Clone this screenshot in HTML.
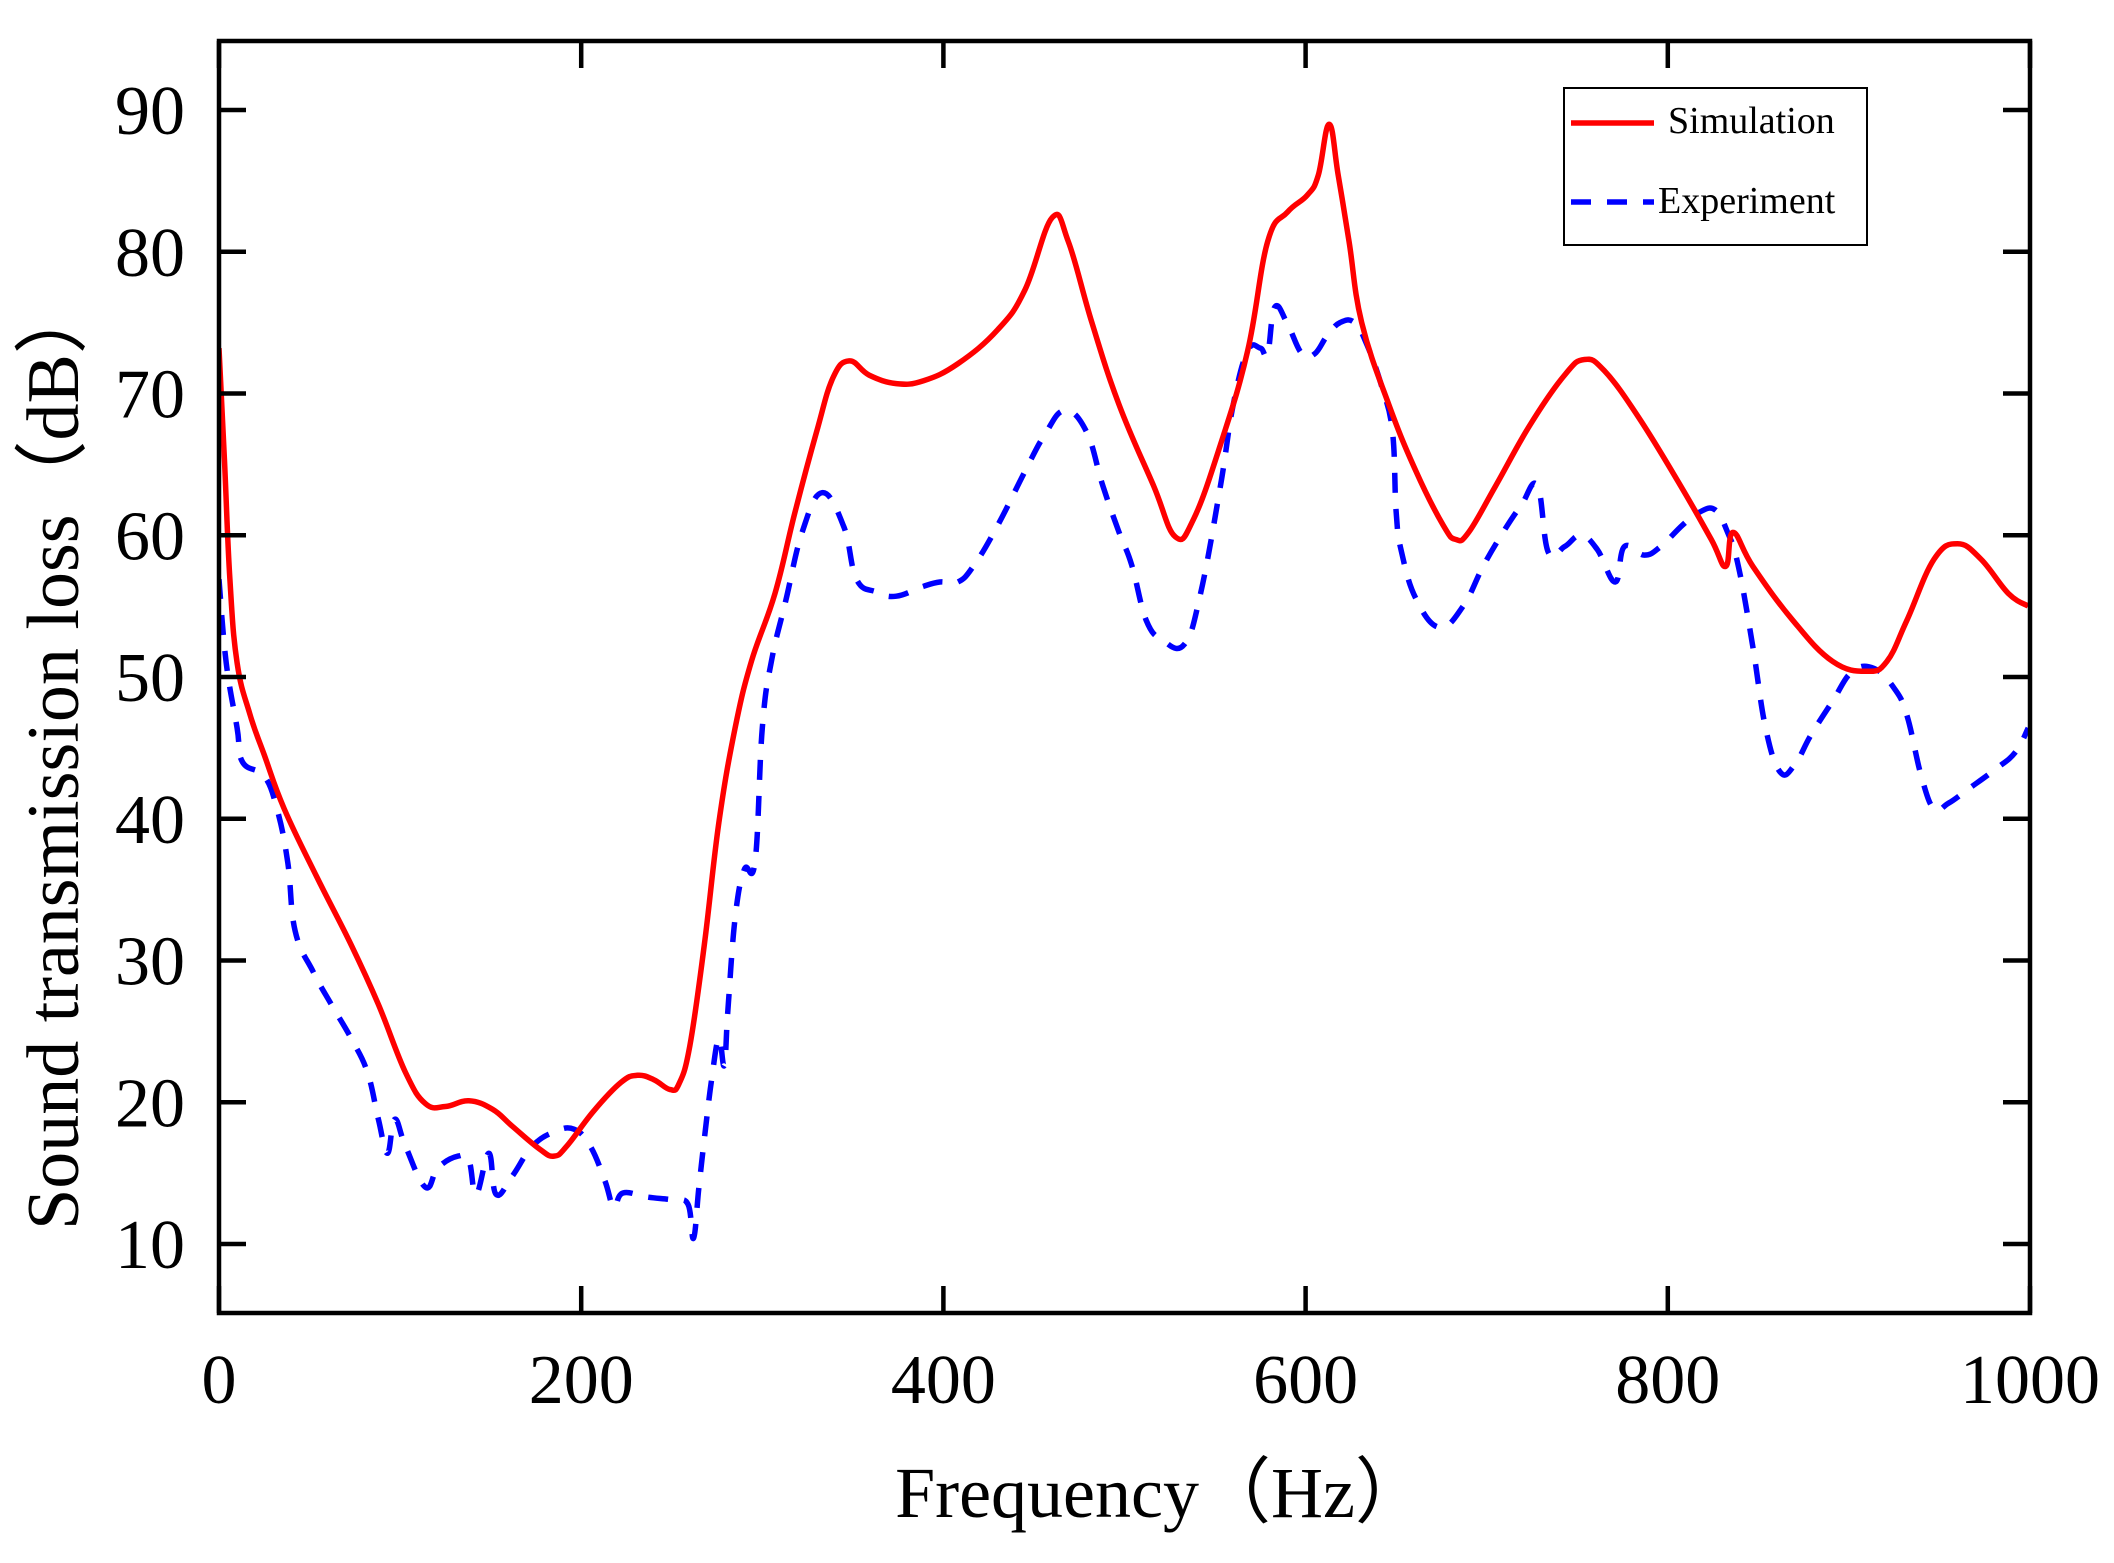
<!DOCTYPE html>
<html><head><meta charset="utf-8"><style>
html,body{margin:0;padding:0;background:#fff;}
svg{display:block;font-family:"Liberation Serif",serif;}
</style></head><body>
<svg id="chart" width="2114" height="1563" viewBox="0 0 2114 1563">
<defs><clipPath id="clip"><rect x="219" y="41" width="1811" height="1272"/></clipPath></defs>
<g id="series" clip-path="url(#clip)"></g>
<rect x="219" y="41" width="1811" height="1272" fill="none" stroke="#000" stroke-width="4.5"/>
<g id="ticks"></g>
<text x="1161" y="1517" font-size="72" text-anchor="middle">Frequency（Hz）</text>
<text transform="translate(78,755) rotate(-90)" font-size="74" text-anchor="middle">Sound transmission loss（dB）</text>
<g>
<rect x="1564" y="88" width="303" height="157" fill="#fff" stroke="#000" stroke-width="2"/>
<line x1="1571" y1="123" x2="1654" y2="123" stroke="#ff0000" stroke-width="5.5"/>
<text x="1668" y="133" font-size="38">Simulation</text>
<line x1="1571" y1="202" x2="1654" y2="202" stroke="#0000ff" stroke-width="5.5" stroke-dasharray="20,16"/>
<text x="1658" y="213" font-size="38">Experiment</text>
</g>
</svg>
<script>
const xTicks=[0,200,400,600,800,1000];
const yTicks=[10,20,30,40,50,60,70,80,90];
const simFreq=[0,3,6,10,17,25,36,54,73,88,103,114,125,138,151,162,177,185,192,207,222,231,240,249,254,260,268,276,285,294,307,318,330,339,348,359,374,389,408,430,445,460,469,482,497,516,528,538,553,568,579,590,601,607,613,618,624,631,646,661,676,683,690,705,724,743,754,765,784,807,824,832,836,847,869,891,910,921,932,947,960,973,988,999];
const simLoss=[73.2,65.4,56.9,51,47.4,44.5,40.7,35.9,31.1,26.9,22.1,19.9,19.7,20.1,19.5,18.3,16.7,16.2,16.9,19.4,21.4,21.9,21.6,20.9,21.3,24,31.1,39.7,46.4,51.1,55.9,61.6,67.3,71.1,72.3,71.3,70.7,70.9,72.1,74.5,77.3,82.4,80.7,75,69.2,63.5,59.9,61.1,66.4,73,80.7,82.8,84,85.4,89,85.4,80.7,75,69.2,64.5,60.7,59.7,60.2,63.5,67.8,71.3,72.4,71.6,68.3,63.5,59.7,57.8,60.2,57.8,54,51.1,50.4,51.1,54,58.3,59.4,58.3,55.9,55];
const expFreq=[0,4,10,13,25,32,38,42,52,62,73,82,88,93,97,103,114,121,132,138,142,149,153,162,173,185,196,205,213,218,223,237,251,259,262,265,268,272,276,279,281,285,290,296,300,305,313,322,333,345,352,363,374,389,398,408,417,430,445,456,467,479,488,497,504,512,521,533,542,553,560,568,575,579,583,590,598,605,612,619,627,634,642,648,650,653,661,674,687,698,709,719,728,734,743,752,761,771,776,787,796,808,817,826,833,839,847,854,862,870,879,891,902,914,925,932,940,947,955,966,981,992,999];
const expLoss=[56.9,51,46.4,44,43,40.7,36.9,32.1,29.2,26.9,24.5,22.1,18.8,16.4,18.8,16.9,14,15.4,16.2,15.9,13.5,16.4,13.5,14.8,16.9,17.9,18.1,16.9,14.5,12.6,13.6,13.3,13.1,12.8,10.4,14,17.4,21.6,24.5,22.6,26.5,33,36.4,37,46.4,51.1,55.4,60.2,63,60.6,56.9,56,55.7,56.4,56.7,56.7,57.9,60.7,64.5,67.1,68.8,67.3,63.5,60.2,57.9,54,52.6,52.3,55.9,63.5,69.2,73,73.2,72.8,76.1,74.9,72.8,72.8,74.1,75,75,73.4,70.5,67.3,61.6,58.8,55.5,53.5,55,57.8,60.2,62.1,63.5,58.8,59.2,60,59,56.7,59.2,58.6,59.2,60.7,61.6,61.8,60.2,57.8,52.1,46.4,43.3,43.8,45.9,48.3,50.4,50.6,49.2,47.3,43,40.7,41.1,42.1,43.5,44.7,46.4];
const NS='http://www.w3.org/2000/svg';
const X=v=>219+(v/1000)*1811;
const Y=v=>1244-(v-10)*14.175;
const ticks=document.getElementById('ticks');
xTicks.forEach(t=>{
  [[41,68],[1313,1286]].forEach(([a,b])=>{
    const l=document.createElementNS(NS,'line');
    l.setAttribute('x1',X(t));l.setAttribute('x2',X(t));l.setAttribute('y1',a);l.setAttribute('y2',b);
    l.setAttribute('stroke','#000');l.setAttribute('stroke-width','4.5');
    
    
    ticks.appendChild(l);
  });
  const tx=document.createElementNS(NS,'text');
  tx.setAttribute('x',X(t));tx.setAttribute('y',1403);tx.setAttribute('font-size','70');tx.setAttribute('text-anchor','middle');
  tx.textContent=t;
  
  
  ticks.appendChild(tx);
});
yTicks.forEach(t=>{
  [[219,246],[2030,2003]].forEach(([a,b])=>{
    const l=document.createElementNS(NS,'line');
    l.setAttribute('x1',a);l.setAttribute('x2',b);l.setAttribute('y1',Y(t));l.setAttribute('y2',Y(t));
    l.setAttribute('stroke','#000');l.setAttribute('stroke-width','4.5');
    
    
    ticks.appendChild(l);
  });
  const tx=document.createElementNS(NS,'text');
  tx.setAttribute('x',185);tx.setAttribute('y',Y(t)+24);tx.setAttribute('font-size','70');tx.setAttribute('text-anchor','end');
  tx.textContent=t;
  
  
  ticks.appendChild(tx);
});
function smoothPath(fx,fy){
  const p=fx.map((f,i)=>[X(f),Y(fy[i])]);
  let d='M'+p[0][0].toFixed(1)+','+p[0][1].toFixed(1);
  const t=0.2;
  for(let i=0;i<p.length-1;i++){
    const p0=p[Math.max(i-1,0)],p1=p[i],p2=p[i+1],p3=p[Math.min(i+2,p.length-1)];
    const c1=[p1[0]+(p2[0]-p0[0])*t,p1[1]+(p2[1]-p0[1])*t];
    const c2=[p2[0]-(p3[0]-p1[0])*t,p2[1]-(p3[1]-p1[1])*t];
    d+=' C'+c1.map(v=>v.toFixed(1)).join(',')+' '+c2.map(v=>v.toFixed(1)).join(',')+' '+p2[0].toFixed(1)+','+p2[1].toFixed(1);
  }
  return d;
}
function line(fx,fy,color,dash,name){
  const p=document.createElementNS(NS,'path');
  p.setAttribute('d',smoothPath(fx,fy));
  p.setAttribute('fill','none');p.setAttribute('stroke',color);p.setAttribute('stroke-width','5.5');
  p.setAttribute('stroke-linejoin','round');
  if(dash)p.setAttribute('stroke-dasharray',dash);
  
  
  document.getElementById('series').appendChild(p);
}
line(expFreq,expLoss,'#0000ff','20,16','experiment-line');
line(simFreq,simLoss,'#ff0000',null,'simulation-line');
</script>
</body></html>
